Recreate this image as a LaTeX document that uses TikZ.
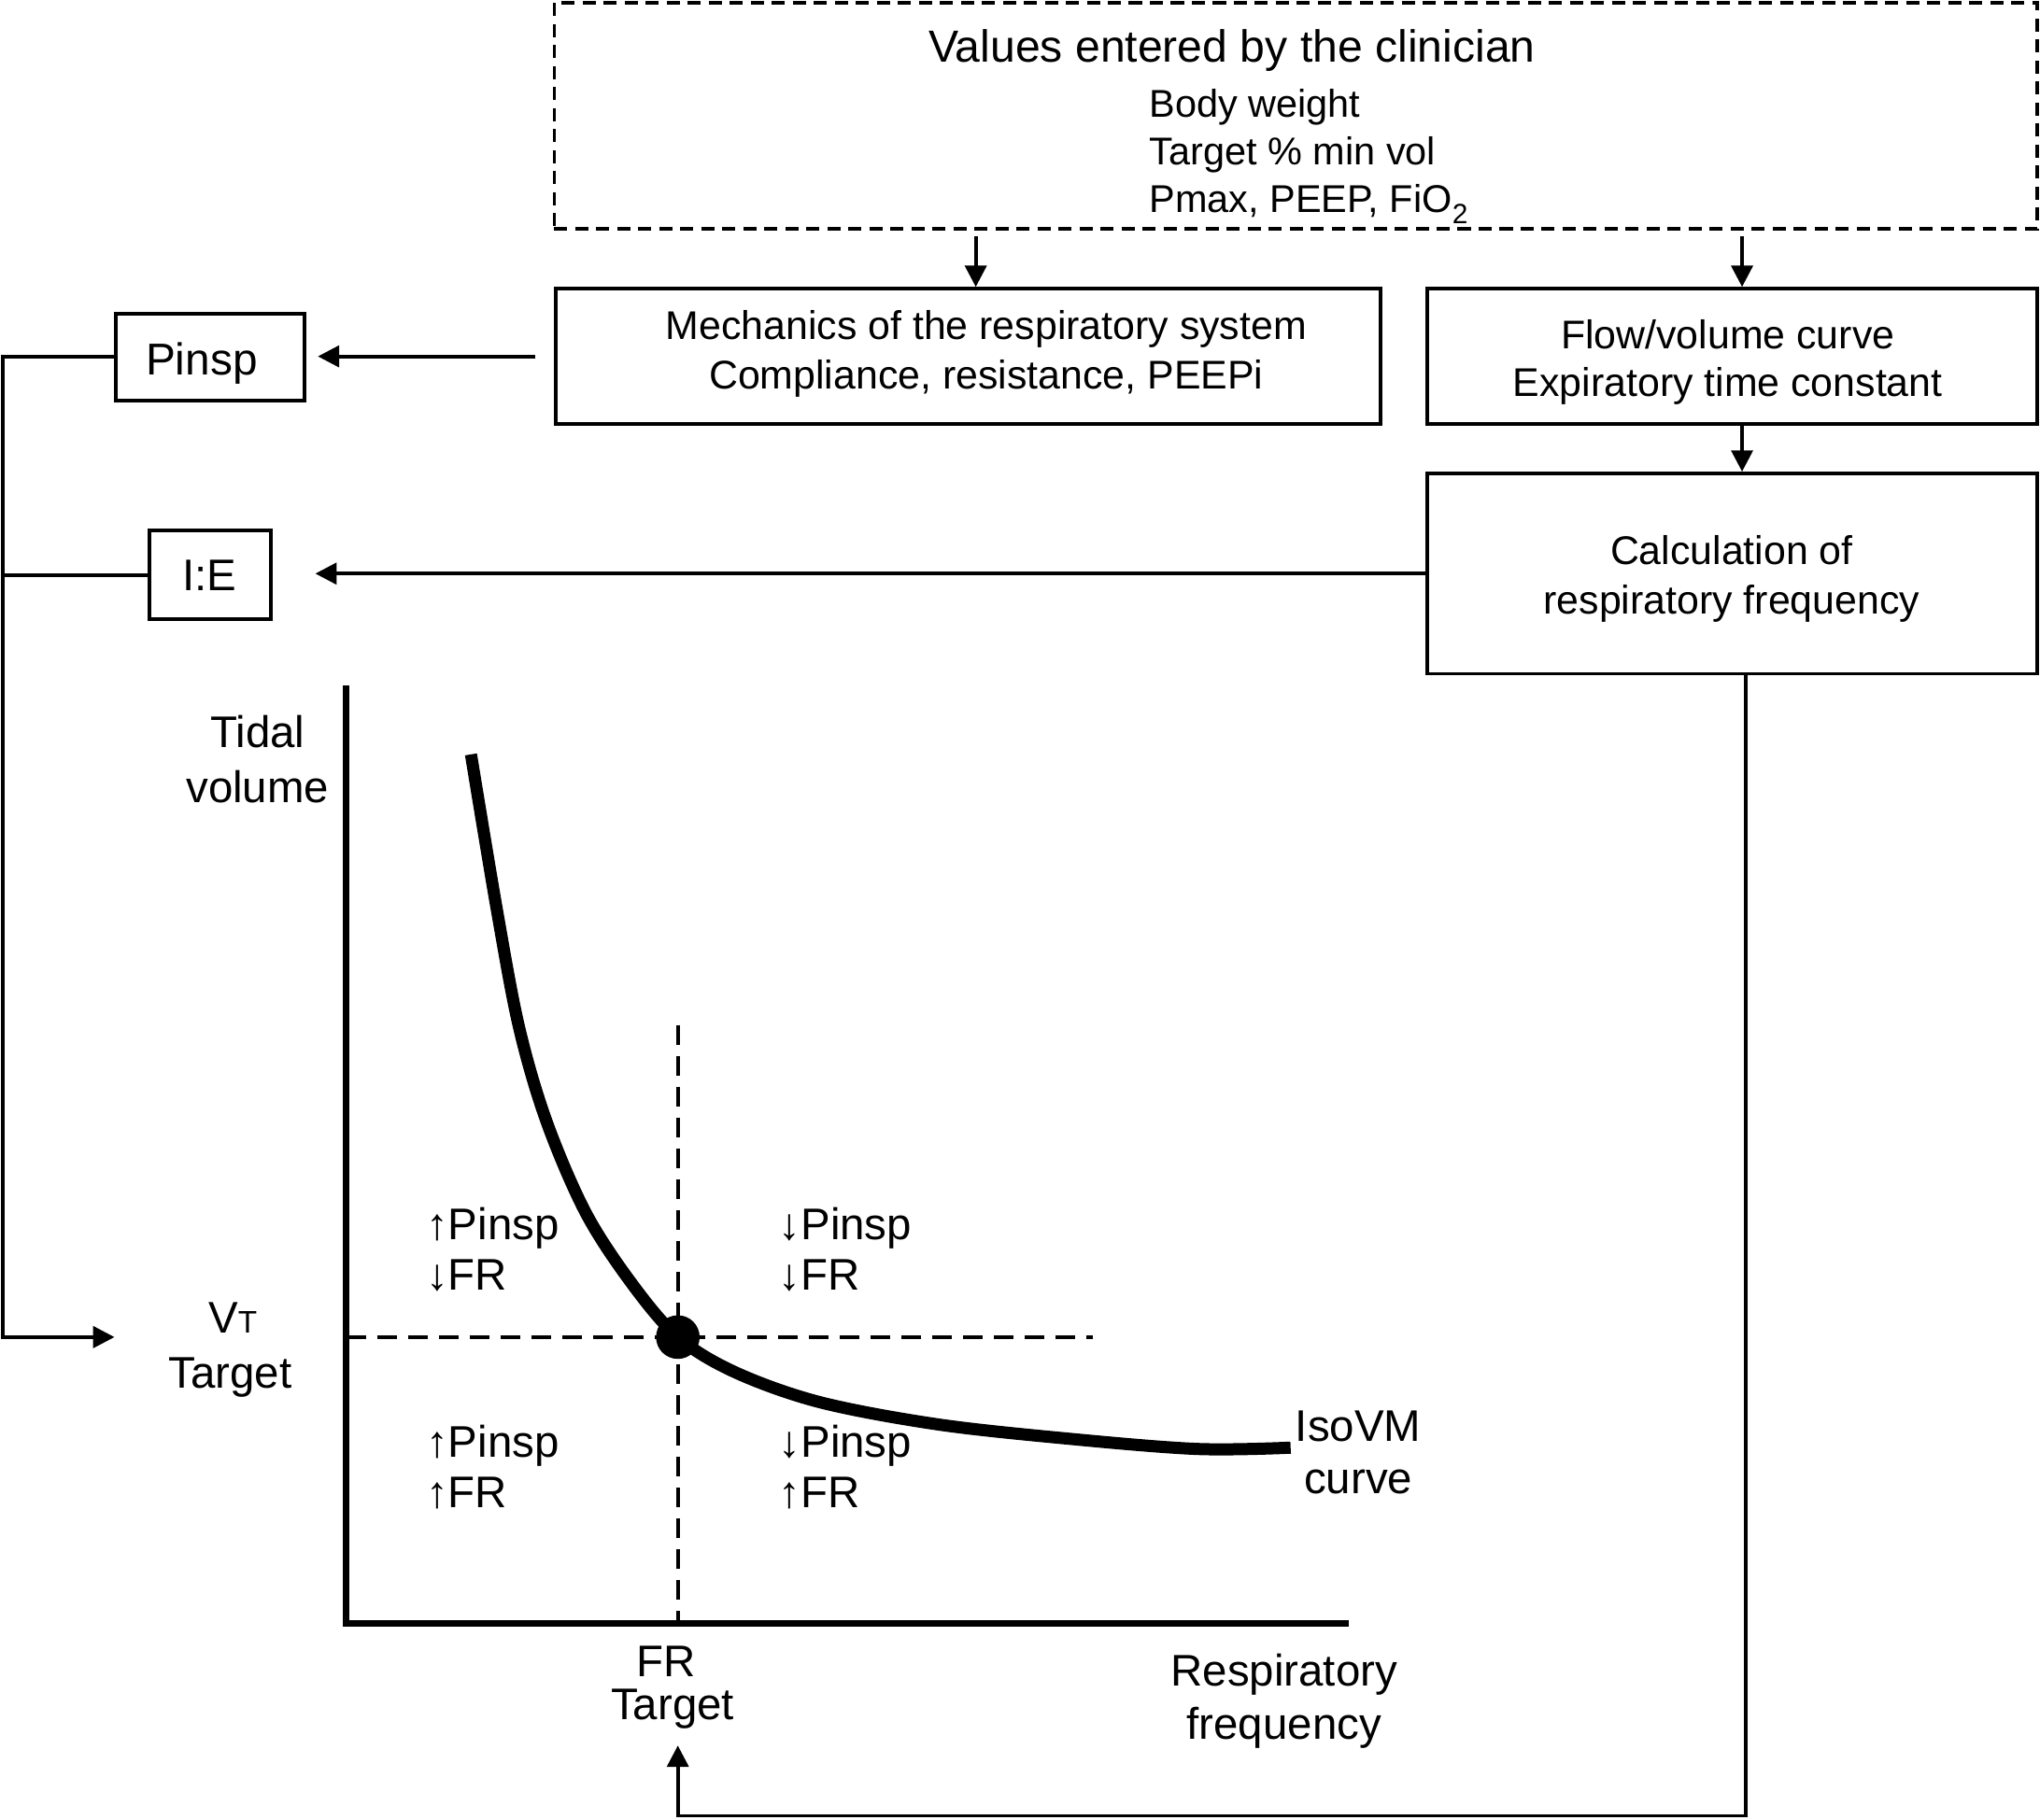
\documentclass[tikz,border=0pt]{standalone}
\usepackage{fontspec}
\setmainfont{Liberation Sans}
\usetikzlibrary{arrows.meta,calc}
\newcommand{\fsTitle}{\fontsize{13.7}{16}\selectfont}
\newcommand{\fsList}{\fontsize{11.8}{14}\selectfont}
\newcommand{\fsBox}{\fontsize{12.2}{15}\selectfont}
\newcommand{\fsLab}{\fontsize{13.5}{16}\selectfont}
\begin{document}
\begin{tikzpicture}[x=0.013929cm, y=-0.013929cm,
  box/.style={draw, line width=1.1pt, inner sep=0pt},
  btxt/.style={inner sep=0pt, font=\fsBox, anchor=base},
  dbox/.style={draw, line width=1.1pt, dash pattern=on 4pt off 2.4pt, inner sep=0pt},
  arr/.style={line width=1.1pt, -{Triangle[length=6.5pt,width=6.5pt]}},
  conn/.style={line width=1.1pt},
  axis/.style={line width=1.9pt},
  guide/.style={line width=1.1pt, dash pattern=on 6pt off 3.4pt},
  curvestyle/.style={line width=3.7pt, line cap=butt},
  lab/.style={inner sep=0pt, font=\fsLab, anchor=base},
  qlab/.style={inner sep=0pt, font=\fsLab, anchor=base west},
  lst/.style={inner sep=0pt, font=\fsList, anchor=base west}]
\useasboundingbox (0,0) rectangle (1568,1399);

% top dashed box
\node[dbox, minimum width=15.88cm, minimum height=2.424cm] (top) at (996,89) {};
\node[inner sep=0pt, font=\fsTitle, anchor=base] (title) at (947,48) {Values entered by the clinician};
\node[lst] (l1) at (883,90) {Body weight};
\node[lst] (l2) at (883,127) {Target \% min vol};
\node[lst] (l3) at (883,163) {Pmax, PEEP, FiO\raisebox{-0.55ex}{\fontsize{8.5}{9}\selectfont 2}};

% boxes
\node[box, minimum width=8.831cm, minimum height=1.449cm] (mech) at (744,274) {};
\node[btxt] (mech1) at (758,261) {Mechanics of the respiratory system};
\node[btxt] (mech2) at (758,299) {Compliance, resistance, PEEPi};
\node[box, minimum width=6.533cm, minimum height=1.449cm] (flow) at (1331.5,274) {};
\node[btxt] (flow1) at (1328,268) {Flow/volume curve};
\node[btxt] (flow2) at (1328,305) {Expiratory time constant};
\node[box, minimum width=6.533cm, minimum height=2.145cm] (calc) at (1331.5,441) {};
\node[btxt] (calc1) at (1331,434) {Calculation of};
\node[btxt] (calc2) at (1331,472) {respiratory frequency};
\node[box, minimum width=2.020cm, minimum height=0.933cm] (pinsp) at (161.5,274.5) {};
\node[inner sep=0pt, anchor=base, font=\fontsize{13.6}{16}\selectfont] (pinsptxt) at (155,288) {Pinsp};
\node[box, minimum width=1.295cm, minimum height=0.947cm] (ie) at (161.5,442) {};
\node[inner sep=0pt, anchor=base, font=\fsLab] (ietxt) at (161,454) {I:E};

% helper coordinates
\coordinate (a1) at (750,0);
\coordinate (a2) at (1339,0);
\coordinate (L) at (2,0);
\coordinate (vtip) at (88,1028);
\coordinate (Rb) at (1342,1396);
\coordinate (frtip) at (521,1342);
\coordinate (O) at (266,1248);
\coordinate (ytop) at (266,527);
\coordinate (xend) at (1037,1248);
\coordinate (hd) at (840,1028);
\coordinate (vd) at (521,788);

% connectors
\draw[arr, shorten <=0.056cm] (a1 |- top.south) -- (a1 |- mech.north);
\draw[arr, shorten <=0.056cm] (a2 |- top.south) -- (a2 |- flow.north);
\draw[arr] (a2 |- flow.south) -- (a2 |- calc.north);
\draw[arr, shorten <=0.195cm, shorten >=0.125cm] (mech.west) -- (mech.west -| pinsp.east);
\draw[arr, shorten >=0.46cm] (calc.west) -- (calc.west -| ie.east);
\draw[arr] (pinsp.west) -- (pinsp.west -| L) -- (L |- vtip) -- (vtip);
\draw[conn] (ie.west) -- (ie.west -| L);
\draw[arr] (Rb |- calc.south) -- (Rb) -| (frtip);

% graph
\draw[guide] (O |- hd) -- (hd);
\draw[guide] (vd) -- (vd |- O);
\draw[axis] (ytop) -- (O) -- (xend);
\draw[curvestyle] plot[smooth, tension=0.55] coordinates {(362,580) (382,700) (399,790) (420,862) (450,932) (485,986) (521,1028) (565,1055) (630,1078) (720,1095) (820,1106) (920,1114) (992,1113)};
\node[circle, fill, minimum size=0.467cm, inner sep=0pt] (pt) at (521,1028) {};

% labels
\node[lab] (tidal) at (198,575) {Tidal};
\node[lab] (volume) at (198,617) {volume};
\node[lab] (vt) at (179,1025) {V{\fontsize{9.5}{10}\selectfont T}};
\node[lab] (vttarget) at (177,1067) {Target};
\node[lab] (iso) at (1044,1108) {IsoVM};
\node[lab] (isocurve) at (1044,1148) {curve};
\node[lab] (fr) at (512,1289) {FR};
\node[lab] (frtarget) at (517,1322) {Target};
\node[lab] (resp) at (987,1296) {Respiratory};
\node[lab] (freq) at (987,1337) {frequency};

\node[qlab] (q1a) at (327,953) {↑Pinsp};
\node[qlab] (q1b) at (327,992) {↓FR};
\node[qlab] (q2a) at (327,1120) {↑Pinsp};
\node[qlab] (q2b) at (327,1159) {↑FR};
\node[qlab] (q3a) at (598,953) {↓Pinsp};
\node[qlab] (q3b) at (598,992) {↓FR};
\node[qlab] (q4a) at (598,1120) {↓Pinsp};
\node[qlab] (q4b) at (598,1159) {↑FR};
\end{tikzpicture}
\end{document}
